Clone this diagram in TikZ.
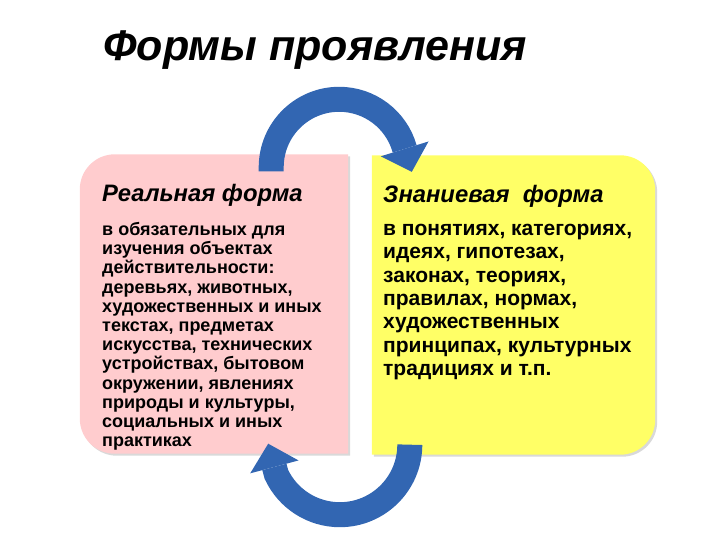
\documentclass[tikz,border=0pt]{standalone}
\usepackage{fontspec}
\setmainfont{Liberation Sans}
\usetikzlibrary{positioning,arrows.meta,shadows}
\definecolor{realpink}{RGB}{255,204,206}
\definecolor{znanyellow}{RGB}{255,255,102}
\definecolor{arrowblue}{RGB}{50,102,178}

\begin{document}
\begin{tikzpicture}[x=1pt,y=1pt,
    boxarea/.style={rectangle, inner sep=0pt, minimum width=#1, minimum height=299},
    boxshadow/.style={drop shadow={shadow xshift=2pt, shadow yshift=-2pt, opacity=0.3}},
    titletext/.style={inner sep=0pt, anchor=base west, font=\fontsize{43}{50}\selectfont\bfseries\itshape},
    headtext/.style={inner sep=0pt, anchor=base west, font=\fontsize{23.8}{28}\selectfont\bfseries\itshape},
    realbody/.style={inner sep=0pt, align=left, font=\fontsize{18}{19.2}\selectfont\bfseries},
    znanbody/.style={inner sep=0pt, align=left, font=\fontsize{21}{23.3}\selectfont\bfseries},
    blockarrow/.style={draw=arrowblue, line width=25pt, -{Triangle[width=50pt, length=24pt, line width=0pt]}}
  ]
  \useasboundingbox (0,0) rectangle (720,540);

  \node[titletext] (title) at (103,479) {Формы проявления};

  % the two boxes
  \node[boxarea=268] (real) at (214,236) {};
  \node[boxarea=283] (znan) at (513.5,235) {};
  \fill[realpink, boxshadow] (real.north east) -- ([xshift=35pt]real.north west)
    arc[start angle=90, end angle=180, radius=35] -- ([yshift=35pt]real.south west)
    arc[start angle=180, end angle=270, radius=35] -- (real.south east) -- cycle;
  \fill[znanyellow, boxshadow] (znan.north west) -- ([xshift=-35pt]znan.north east)
    arc[start angle=90, end angle=0, radius=35] -- ([yshift=35pt]znan.south east)
    arc[start angle=0, end angle=-90, radius=35] -- (znan.south west) -- cycle;

  \node[headtext] (realhead) at (102,338) {Реальная форма};
  \node[realbody, below right=15pt and 0pt of realhead.south west] (realtext)
    {в обязательных для\\изучения объектах\\действительности:\\деревьях, животных,\\художественных и иных\\текстах, предметах\\искусства, технических\\устройствах, бытовом\\окружении, явлениях\\природы и культуры,\\социальных и иных\\практиках};

  \node[headtext] (znanhead) at (383,337) {Знаниевая\ \ форма};
  \node[znanbody, below right=16pt and 0pt of znanhead.south west] (znantext)
    {в понятиях, категориях,\\идеях, гипотезах,\\законах, теориях,\\правилах, нормах,\\художественных\\принципах, культурных\\традициях и т.п.};

  % arrows between the boxes
  \draw[blockarrow] ([shift={(-77,-17)}]real.north east) -- ++(0,4)
    arc[start angle=180, end angle=16, radius=68] -- ([shift={(40,-16.5)}]znan.north west);
  \draw[blockarrow] ([shift={(38,10)}]znan.south west)
    arc[start angle=0, end angle=-155, radius=70] -- ([shift={(-80,10)}]real.south east);
\end{tikzpicture}
\end{document}
